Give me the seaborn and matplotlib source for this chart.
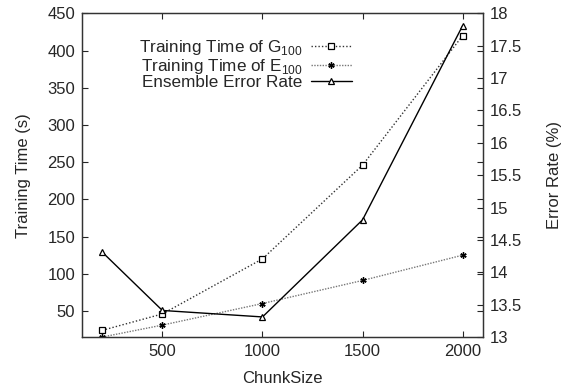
import matplotlib
matplotlib.use("Agg")
import matplotlib.pyplot as plt
import seaborn as sns

# chart values
chunk_size = [200, 500, 1000, 1500, 2000]
time_g100 = [24, 46, 120, 246, 420]
time_e100 = [15, 31, 60, 91, 125]
error_rate = [14.31, 13.41, 13.31, 14.81, 17.81]

sns.set_style("ticks")
plt.rcParams['font.family'] = ['Liberation Sans', 'DejaVu Sans']
plt.rcParams['mathtext.fontset'] = 'custom'
plt.rcParams['mathtext.rm'] = 'Liberation Sans'
plt.rcParams['font.size'] = 12

fig, ax = plt.subplots(figsize=(5.7, 3.92), dpi=100)
fig.subplots_adjust(left=0.1444, right=0.8468, top=0.966, bottom=0.1403)
ax2 = ax.twinx()

sns.lineplot(x=chunk_size, y=time_g100, ax=ax, color="#333333", linestyle=(0, (1, 1.5)),
             linewidth=1, marker="s", markersize=4.2, markerfacecolor="white",
             markeredgecolor="black", markeredgewidth=0.9,
             label=r"Training Time of G$_{\mathregular{100}}$")
sns.lineplot(x=chunk_size, y=time_e100, ax=ax, color="#777777", linestyle=(0, (1, 1)),
             linewidth=1, marker=(6, 2, 0), markersize=4.5,
             markeredgecolor="black", markeredgewidth=1,
             label=r"Training Time of E$_{\mathregular{100}}$")
sns.lineplot(x=chunk_size, y=error_rate, ax=ax2, color="black", linewidth=1,
             marker="^", markersize=4.5, markerfacecolor="white",
             markeredgecolor="black", markeredgewidth=0.9,
             label="Ensemble Error Rate")

ax.set_xlim(100, 2100)
ax.set_ylim(15, 450)
ax2.set_ylim(13, 18)
ax.set_xticks([500, 1000, 1500, 2000])
ax.set_yticks(range(50, 451, 50))
ax2.set_yticks([13, 13.5, 14, 14.5, 15, 15.5, 16, 16.5, 17, 17.5, 18])
ax2.set_yticklabels(["13", "13.5", "14", "14.5", "15", "15.5", "16", "16.5", "17", "17.5", "18"])

ax.set_xlabel("ChunkSize", labelpad=9)
ax.set_ylabel("Training Time (s)", labelpad=12)
ax2.set_ylabel("Error Rate (%)", labelpad=18)

ax.tick_params(direction="in", length=4, width=0.8, top=True, right=True, labelsize=12, pad=5)
ax2.tick_params(direction="in", length=4, width=0.8, labelsize=12, pad=5)
for a in (ax, ax2):
    for s in a.spines.values():
        s.set_linewidth(0.9)
        s.set_color("#333333")

h1, l1 = ax.get_legend_handles_labels()
h2, l2 = ax2.get_legend_handles_labels()
if ax2.get_legend():
    ax2.get_legend().remove()
ax.legend(h1 + h2, l1 + l2, loc="upper right", bbox_to_anchor=(0.69, 0.945),
          frameon=False, markerfirst=False, handlelength=2.4,
          labelspacing=-0.02, borderaxespad=0, handletextpad=0.5, fontsize=12.3)

fig.savefig("out.png", dpi=100)
